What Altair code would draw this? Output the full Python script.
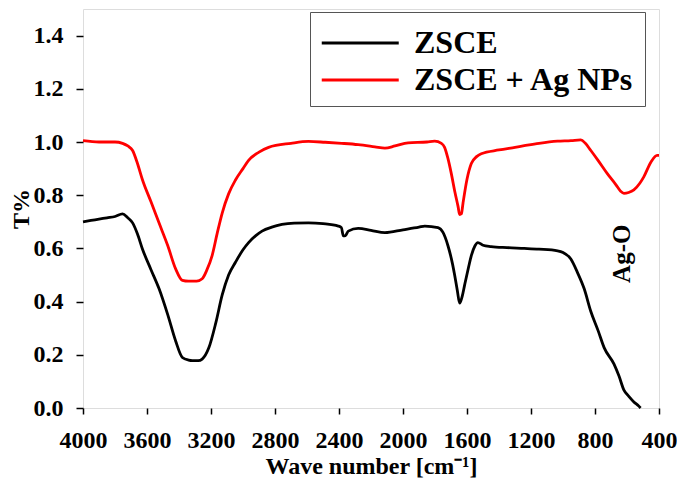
import altair as alt
import pandas as pd

zsce_wave = [4000, 3950, 3900, 3850, 3800, 3753, 3720, 3690, 3660, 3628, 3575, 3525, 3470, 3421, 3379,
             3340, 3317, 3280, 3255, 3213, 3170, 3130, 3090, 3047, 3000, 2965, 2920, 2881, 2820, 2757,
             2680, 2591, 2500, 2404, 2385, 2373, 2360, 2342, 2280, 2200, 2113, 2000, 1900, 1864, 1781,
             1750, 1719, 1690, 1677, 1660, 1646, 1630, 1615, 1590, 1573, 1550, 1532, 1500, 1449, 1350,
             1242, 1150, 1034, 1000, 951, 910, 868, 826, 780, 743, 681, 650, 619, 590, 557, 526, 515]
zsce_t = [0.70, 0.705, 0.71, 0.715, 0.72, 0.73, 0.715, 0.696, 0.655, 0.597, 0.52, 0.449, 0.35, 0.252, 0.19,
          0.18, 0.178, 0.178, 0.184, 0.227, 0.32, 0.425, 0.50, 0.548, 0.595, 0.622, 0.648, 0.665, 0.68, 0.69,
          0.695, 0.696, 0.693, 0.684, 0.678, 0.647, 0.648, 0.665, 0.675, 0.668, 0.659, 0.67, 0.68, 0.684, 0.678,
          0.66, 0.61, 0.54, 0.499, 0.44, 0.394, 0.42, 0.462, 0.53, 0.573, 0.61, 0.622, 0.612, 0.607, 0.603,
          0.60, 0.597, 0.591, 0.585, 0.56, 0.51, 0.449, 0.363, 0.29, 0.227, 0.165, 0.12, 0.067, 0.045, 0.023, 0.007, 0.0]

ag_wave = [4000, 3900, 3800, 3753, 3720, 3690, 3660, 3628, 3575, 3525, 3470, 3421, 3379, 3340, 3290,
           3255, 3225, 3193, 3160, 3130, 3090, 3047, 3000, 2965, 2900, 2840, 2700, 2591, 2487, 2383,
           2280, 2176, 2113, 2050, 1968, 1850, 1802, 1760, 1740, 1720, 1698, 1675, 1656, 1646, 1635,
           1625, 1600, 1573, 1540, 1511, 1400, 1300, 1242, 1150, 1034, 950, 889, 860, 826, 780,
           723, 670, 640, 619, 590, 557, 520, 495, 450, 412, 400]
ag_t = [1.005, 1.0, 1.0, 0.995, 0.985, 0.968, 0.92, 0.857, 0.775, 0.696, 0.61, 0.523, 0.48, 0.477, 0.477,
        0.486, 0.52, 0.573, 0.66, 0.733, 0.805, 0.857, 0.90, 0.931, 0.962, 0.98, 0.995, 1.002, 0.999, 0.995,
        0.99, 0.982, 0.977, 0.985, 0.997, 1.0, 1.003, 0.995, 0.98, 0.94, 0.881, 0.81, 0.758, 0.727, 0.73,
        0.77, 0.86, 0.919, 0.945, 0.956, 0.97, 0.98, 0.986, 0.995, 1.003, 1.005, 1.008, 0.995, 0.968, 0.93,
        0.881, 0.84, 0.815, 0.807, 0.81, 0.82, 0.845, 0.869, 0.925, 0.95, 0.95]

series_names = ["ZSCE", "ZSCE + Ag NPs"]
series_colors = ["#000000", "#ff0000"]

annot_text = ["Ag-O"]
annot_wave = [631]
annot_t = [0.58]

x_ticks = [4000, 3600, 3200, 2800, 2400, 2000, 1600, 1200, 800, 400]
y_ticks = [0, 0.2, 0.4, 0.6, 0.8, 1.0, 1.2, 1.4]

df = pd.concat([
    pd.DataFrame({"wave": zsce_wave, "t": zsce_t, "series": series_names[0], "order": range(len(zsce_wave))}),
    pd.DataFrame({"wave": ag_wave, "t": ag_t, "series": series_names[1], "order": range(len(ag_wave))}),
])
annot = pd.DataFrame({"wave": annot_wave, "t": annot_t, "label": annot_text})

FONT = "Liberation Serif"

x = alt.X("wave:Q", scale=alt.Scale(domain=[4000, 400], nice=False, zero=False),
          axis=alt.Axis(values=x_ticks, format="d", labelOverlap=False, labelFlush=False,
                        title="Wave number [cm⁻¹]", grid=False,
                        tickColor="black", tickSize=6, tickWidth=1.5, labelFontSize=24, labelFont=FONT,
                        labelFontWeight="bold", labelColor="black", labelPadding=14,
                        titleFont=FONT, titleFontSize=24, titleFontWeight="bold", titleColor="black",
                        titlePadding=2, domain=False))
y = alt.Y("t:Q", scale=alt.Scale(domain=[0, 1.5], nice=False),
          axis=alt.Axis(values=y_ticks, format=".1f", labelOverlap=False, labelFlush=False,
                        title="T%", grid=False,
                        tickColor="black", tickSize=7, tickWidth=1.5, labelFontSize=24, labelFont=FONT,
                        labelFontWeight="bold", labelColor="black", labelPadding=13,
                        titleFont=FONT, titleFontSize=24, titleFontWeight="bold", titleColor="black",
                        titleX=-50, domain=False))

lines = alt.Chart(df).mark_line(strokeWidth=2.8, interpolate="monotone").encode(
    x=x, y=y, order="order:Q",
    color=alt.Color("series:N", scale=alt.Scale(domain=series_names, range=series_colors),
                    legend=alt.Legend(title=None, orient="none", legendX=227, legendY=3,
                                      symbolType="M-1,0H3", symbolSize=1482, symbolStrokeWidth=3,
                                      labelFont=FONT, labelFontSize=32, labelFontWeight="bold",
                                      labelColor="black", strokeColor="#555555", fillColor="white",
                                      padding=10, rowPadding=0, labelOffset=52, labelLimit=400))
)

text = alt.Chart(annot).mark_text(angle=270, font=FONT, fontSize=25, fontWeight="bold", color="black",
                                  baseline="middle", align="center").encode(
    x="wave:Q", y="t:Q", text="label:N")

chart = alt.layer(lines, text).properties(
    width=576, height=399,
    autosize=alt.AutoSizeParams(type="none"),
    padding={"left": 75, "top": 1, "right": 18, "bottom": 70},
).configure_view(stroke="black", strokeWidth=3).configure(background="white")

chart.save("out.html", embed_options={"renderer": "svg", "actions": False})
